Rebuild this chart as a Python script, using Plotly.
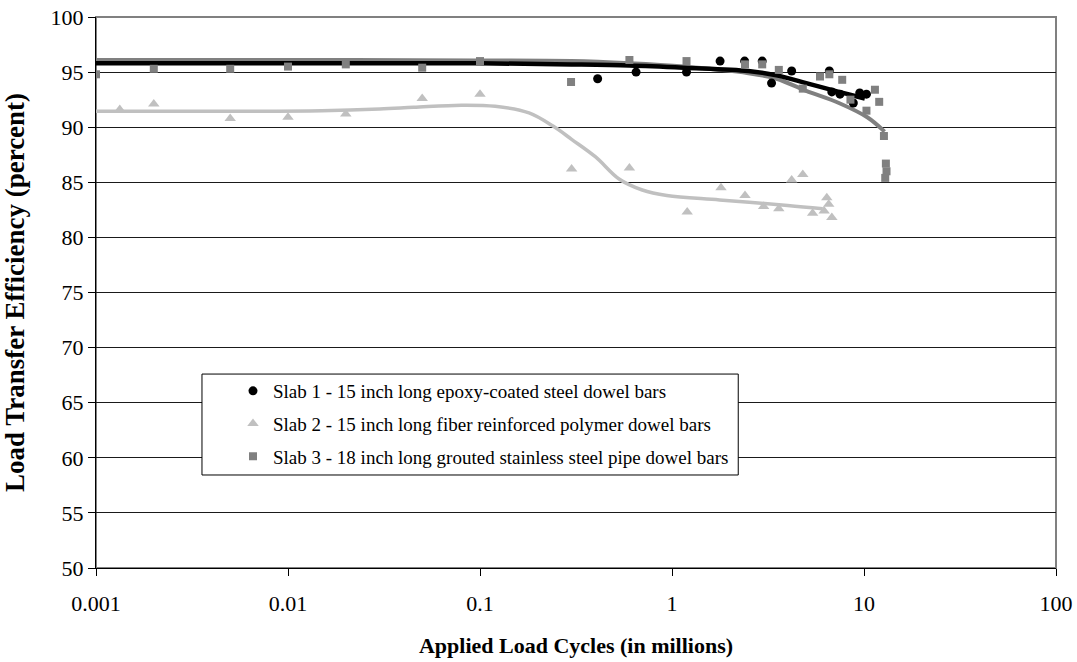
import plotly.graph_objects as go

# ---- data (cycles in millions, LTE percent) ----
slab1_x = [0.41, 0.65, 1.19, 1.78, 2.39, 2.95, 3.3, 4.2, 6.6, 6.8, 7.5, 8.8, 9.5, 10.3]
slab1_y = [94.4, 95.0, 95.0, 96.0, 96.0, 96.0, 94.0, 95.1, 95.1, 93.2, 93.0, 92.2, 93.1, 93.0]

slab2_x = [0.00133, 0.002, 0.005, 0.01, 0.02, 0.05, 0.1, 0.3, 0.6, 1.2, 1.8, 2.4, 3.0, 3.6,
           4.2, 4.8, 5.4, 6.2, 6.4, 6.55, 6.8]
slab2_y = [91.6, 92.1, 90.8, 90.9, 91.2, 92.6, 93.0, 86.2, 86.3, 82.3, 84.5, 83.8, 82.8, 82.6,
           85.2, 85.7, 82.2, 82.4, 83.6, 83.0, 81.8]

slab3_x = [0.001, 0.002, 0.005, 0.01, 0.02, 0.05, 0.1, 0.298, 0.6, 1.19, 2.4, 2.95, 3.6, 4.8,
           5.9, 6.6, 7.7, 8.5, 10.3, 11.4, 12.0, 12.7, 13.0, 13.1, 12.9]
slab3_y = [94.8, 95.3, 95.3, 95.5, 95.7, 95.4, 96.0, 94.1, 96.1, 96.0, 95.7, 95.7, 95.2, 93.5,
           94.6, 94.8, 94.3, 92.5, 91.5, 93.4, 92.3, 89.2, 86.7, 86.0, 85.4]

# trend curves
trend1_x = [0.001, 0.01, 0.1, 0.3, 0.6, 1.15, 2.5, 3.5, 5.0, 7.4, 10.1]
trend1_y = [95.8, 95.8, 95.8, 95.7, 95.6, 95.4, 95.1, 94.7, 94.0, 93.2, 92.6]

trend2_x = [0.001, 0.005, 0.015, 0.03, 0.045, 0.08, 0.12, 0.18, 0.24, 0.3, 0.4, 0.53, 0.7,
            0.94, 1.77, 4.0, 6.1]
trend2_y = [91.45, 91.45, 91.5, 91.65, 91.8, 92.0, 91.9, 91.3, 90.1, 88.9, 87.3, 85.3, 84.3,
            83.8, 83.4, 82.9, 82.6]

trend3_x = [0.001, 0.01, 0.1, 0.3, 0.6, 1.15, 2.5, 3.5, 5.0, 7.4, 10.4, 12.8]
trend3_y = [96.1, 96.1, 96.05, 96.0, 95.8, 95.5, 94.9, 94.4, 93.3, 92.2, 90.9, 89.6]

names = [
    "Slab 1 - 15 inch long epoxy-coated steel dowel bars",
    "Slab 2 - 15 inch long fiber reinforced polymer dowel bars",
    "Slab 3 - 18 inch long grouted stainless steel pipe dowel bars",
]

x_tickvals = [0.001, 0.01, 0.1, 1, 10, 100]
x_ticktext = ["0.001", "0.01", "0.1", "1", "10", "100"]

C1, C2, C3 = "#000000", "#C0C0C0", "#808080"
FONT = "Liberation Serif"

fig = go.Figure()

# trend lines
fig.add_trace(go.Scatter(x=trend2_x, y=trend2_y, mode="lines", line=dict(color=C2, width=3.5, shape="spline"),
                         showlegend=False, hoverinfo="skip"))
fig.add_trace(go.Scatter(x=trend3_x, y=trend3_y, mode="lines", line=dict(color=C3, width=4, shape="spline"),
                         showlegend=False, hoverinfo="skip"))
fig.add_trace(go.Scatter(x=trend1_x, y=trend1_y, mode="lines", line=dict(color=C1, width=4.5, shape="spline"),
                         showlegend=False, hoverinfo="skip"))

# markers
fig.add_trace(go.Scatter(x=slab1_x, y=slab1_y, mode="markers", name=names[0], legendgroup="a",
                         marker=dict(symbol="circle", size=9, color=C1)))
fig.add_trace(go.Scatter(x=slab2_x, y=slab2_y, mode="markers", name=names[1], legendgroup="b",
                         marker=dict(symbol="triangle-up", size=10, color=C2)))
fig.add_trace(go.Scatter(x=slab3_x, y=slab3_y, mode="markers", name=names[2], legendgroup="c",
                         marker=dict(symbol="square", size=8, color=C3)))

fig.update_layout(
    width=1077, height=662,
    margin=dict(l=96, r=21, t=17, b=94, autoexpand=False),
    paper_bgcolor="white", plot_bgcolor="white",
    font=dict(family=FONT, size=22, color="black"),
    showlegend=True,
    legend=dict(x=0.1427, y=0.3557, xanchor="left", yanchor="top",
                borderwidth=0, bgcolor="rgba(0,0,0,0)",
                font=dict(family=FONT, size=19), tracegroupgap=5,
                traceorder="grouped"),
    shapes=[
        dict(type="rect", xref="paper", yref="paper", x0=0, y0=0, x1=1, y1=1,
             line=dict(color="#808080", width=2), layer="below"),
        dict(type="rect", xref="paper", yref="paper", x0=0.1104, x1=0.669, y0=0.1688, y1=0.352,
             line=dict(color="black", width=1), fillcolor="white", layer="above"),
    ],
)

fig.update_xaxes(type="log", range=[-3, 2], tickvals=x_tickvals, ticktext=x_ticktext,
                 showgrid=False, zeroline=False, showline=True, linecolor="black", linewidth=1,
                 ticks="outside", ticklen=7, tickcolor="black", automargin=False,
                 ticklabelstandoff=9,
                 tickfont=dict(family=FONT, size=22),
                 title=dict(text="<b>Applied Load Cycles (in millions)</b>", standoff=22,
                            font=dict(family=FONT, size=22)))
fig.update_yaxes(range=[50, 100], dtick=5, tick0=50, automargin=False,
                 showgrid=True, gridcolor="#1a1a1a", gridwidth=1, zeroline=False,
                 showline=True, linecolor="black", linewidth=1,
                 ticks="outside", ticklen=7, tickcolor="black",
                 tickfont=dict(family=FONT, size=22),
                 title=dict(text="<b>Load Transfer Efficiency (percent)</b>", standoff=18,
                            font=dict(family=FONT, size=27)))

fig.write_html("out.html")
